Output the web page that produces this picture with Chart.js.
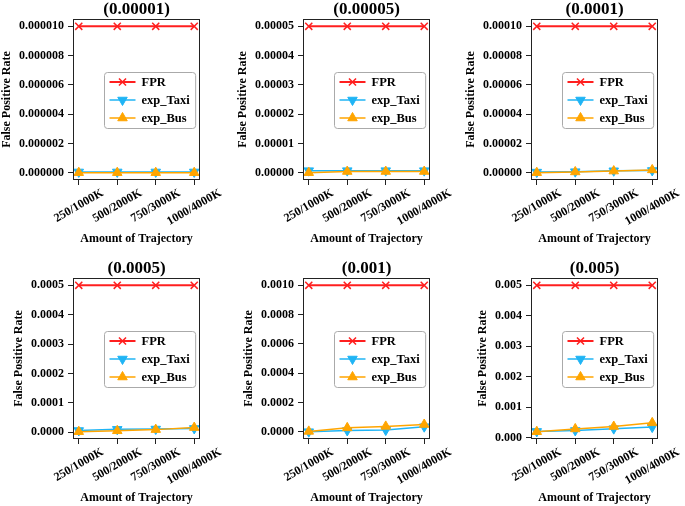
<!DOCTYPE html>
<html>
<head>
<meta charset="utf-8">
<script src="https://cdn.jsdelivr.net/npm/chart.js@4.4.1/dist/chart.umd.min.js"></script>
<style>
  html, body { margin: 0; padding: 0; background: #fff; overflow: hidden; }
  #wrap { position: relative; width: 685px; height: 506px; overflow: hidden; }
  .panel { position: absolute; width: 227px; height: 250px; }
</style>
</head>
<body>
<div id="wrap"></div>
<script>
const categories = ["250/1000K", "500/2000K", "750/3000K", "1000/4000K"];
const panelTitles = ["(0.00001)", "(0.00005)", "(0.0001)", "(0.0005)", "(0.001)", "(0.005)"];
const yTickMax = [0.00001, 0.00005, 0.0001, 0.0005, 0.001, 0.005];
const yTickDecimals = [6, 5, 5, 4, 4, 3];

const fpr = [
  [0.00001, 0.00001, 0.00001, 0.00001],
  [0.00005, 0.00005, 0.00005, 0.00005],
  [0.0001, 0.0001, 0.0001, 0.0001],
  [0.0005, 0.0005, 0.0005, 0.0005],
  [0.001, 0.001, 0.001, 0.001],
  [0.005, 0.005, 0.005, 0.005]
];
const expTaxi = [
  [0.00000005, 0.00000005, 0.00000005, 0.00000005],
  [0.0000008, 0.0000008, 0.0000008, 0.0000008],
  [0.0000005, 0.0000008, 0.0000014, 0.0000016],
  [0.000006, 0.000010, 0.000011, 0.000013],
  [0.000002, 0.000010, 0.000013, 0.000036],
  [0.00020, 0.00023, 0.00029, 0.00034]
];
const expBus = [
  [0, 0, 0, 0],
  [0.0000001, 0.0000005, 0.0000005, 0.0000005],
  [0.0000001, 0.0000006, 0.0000012, 0.000002],
  [0.000002, 0.000005, 0.000009, 0.000016],
  [0.000004, 0.000028, 0.000038, 0.000051],
  [0.00019, 0.00028, 0.00036, 0.00048]
];

const FONT = "'Liberation Serif', 'Times New Roman', serif";
const panelLeft = [0, 230, 458];
const panelTop = [0, 259];

const measureCtx = document.createElement("canvas").getContext("2d");
measureCtx.font = "bold 12px " + FONT;

// full plot frame (matplotlib spines)
const framePlugin = {
  id: "frame",
  afterDraw(chart) {
    const { ctx, chartArea: a } = chart;
    ctx.save();
    ctx.strokeStyle = "#222";
    ctx.lineWidth = 1;
    ctx.strokeRect(Math.round(a.left) + 0.5, Math.round(a.top) + 0.5,
      Math.round(a.right - a.left) - 1, Math.round(a.bottom - a.top) - 1);
    ctx.restore();
  }
};

// rotated x labels centred on the ticks
const xLabelPlugin = {
  id: "xLabels",
  afterDraw(chart) {
    const { ctx, chartArea, scales } = chart;
    const ang = Math.PI / 6;
    ctx.save();
    ctx.font = "bold 12px " + FONT;
    ctx.fillStyle = "#000";
    ctx.textAlign = "center";
    ctx.textBaseline = "middle";
    categories.forEach((label, i) => {
      const w = ctx.measureText(label).width;
      const h = w * Math.sin(ang) + 12 * Math.cos(ang);
      const x = scales.x.getPixelForValue(i);
      const y = chartArea.bottom + 7 + h / 2;
      ctx.save();
      ctx.translate(x, y);
      ctx.rotate(-ang);
      ctx.fillText(label, 0, 0);
      ctx.restore();
    });
    ctx.restore();
  }
};

// legend box at centre right of the plot
const legendPlugin = {
  id: "boxLegend",
  afterDraw(chart) {
    const { ctx, chartArea: a } = chart;
    const sets = chart.data.datasets;
    ctx.save();
    ctx.font = "bold 12.5px " + FONT;
    const textW = Math.max(...sets.map(d => ctx.measureText(d.label).width));
    const w = 5 + 26 + 6 + textW + 6;
    const h = 56;
    const x0 = Math.round(a.right - 5 - w) + 0.5;
    const y0 = Math.round((a.top + a.bottom) / 2 - h / 2) + 0.5;
    ctx.fillStyle = "rgba(255,255,255,0.9)";
    ctx.strokeStyle = "#aaa";
    ctx.lineWidth = 1;
    ctx.beginPath();
    if (ctx.roundRect) ctx.roundRect(x0, y0, w, h, 3); else ctx.rect(x0, y0, w, h);
    ctx.fill();
    ctx.stroke();
    sets.forEach((d, i) => {
      const y = y0 + 9.5 + i * 18;
      ctx.strokeStyle = d.borderColor;
      ctx.fillStyle = d.pointBackgroundColor;
      ctx.lineWidth = d.borderWidth;
      ctx.beginPath();
      ctx.moveTo(x0 + 5, y);
      ctx.lineTo(x0 + 31, y);
      ctx.stroke();
      ctx.lineWidth = d.pointBorderWidth;
      Chart.helpers.drawPoint(ctx, {
        pointStyle: d.pointStyle, rotation: d.pointRotation || 0,
        radius: d.pointRadius, borderWidth: d.pointBorderWidth
      }, x0 + 18, y);
      ctx.fillStyle = "#000";
      ctx.textAlign = "left";
      ctx.textBaseline = "middle";
      ctx.fillText(d.label, x0 + 37, y + 1);
    });
    ctx.restore();
  }
};

function points(vals) {
  return vals.map((v, i) => ({ x: i, y: v }));
}

const wrap = document.getElementById("wrap");

panelTitles.forEach((title, p) => {
  const div = document.createElement("div");
  div.className = "panel";
  div.style.left = panelLeft[p % 3] + "px";
  div.style.top = panelTop[Math.floor(p / 3)] + "px";
  const canvas = document.createElement("canvas");
  canvas.width = 227;
  canvas.height = 250;
  div.appendChild(canvas);
  wrap.appendChild(div);

  const all = fpr[p].concat(expTaxi[p], expBus[p]);
  const lo = Math.min(...all), hi = Math.max(...all);
  const span = hi - lo;
  const step = yTickMax[p] / 5;
  const dec = yTickDecimals[p];
  const labelW = measureCtx.measureText(yTickMax[p].toFixed(dec)).width;
  const yTitlePad = Math.max(0, 45 - labelW);

  new Chart(canvas, {
    type: "line",
    data: {
      datasets: [
        {
          label: "FPR", data: points(fpr[p]), order: 2,
          borderColor: "#ff1f1f", backgroundColor: "#ff1f1f",
          pointBackgroundColor: "#ff1f1f", borderWidth: 2,
          pointStyle: "crossRot", pointRadius: 5, pointBorderWidth: 1.5
        },
        {
          label: "exp_Taxi", data: points(expTaxi[p]), order: 1,
          borderColor: "#1fb4f5", backgroundColor: "#1fb4f5",
          pointBackgroundColor: "#1fb4f5", borderWidth: 1.5,
          pointStyle: "triangle", pointRotation: 180, pointRadius: 5.5, pointBorderWidth: 1
        },
        {
          label: "exp_Bus", data: points(expBus[p]), order: 0,
          borderColor: "#ffa500", backgroundColor: "#ffa500",
          pointBackgroundColor: "#ffa500", borderWidth: 1.5,
          pointStyle: "triangle", pointRadius: 5.5, pointBorderWidth: 1
        }
      ]
    },
    options: {
      responsive: false,
      animation: false,
      events: [],
      layout: { padding: { left: 0, right: 27, top: 0, bottom: 0 } },
      plugins: {
        legend: { display: false },
        tooltip: { enabled: false },
        title: {
          display: true, text: title, color: "#000", fullSize: false,
          font: { family: FONT, size: 17, weight: "bold", lineHeight: "19px" },
          padding: { top: 0, bottom: 0 }
        }
      },
      scales: {
        x: {
          type: "linear", min: -0.15, max: 3.15,
          afterBuildTicks: s => { s.ticks = categories.map((c, i) => ({ value: i })); },
          afterFit: s => { s.height = 70; },
          ticks: { display: false },
          grid: { drawOnChartArea: false, drawTicks: true, tickLength: 5, color: "#222" },
          border: { display: false },
          title: {
            display: true, text: "Amount of Trajectory", color: "#000",
            font: { family: FONT, size: 12, weight: "bold", lineHeight: "14px" },
            padding: { top: 0, bottom: 4 }
          }
        },
        y: {
          min: lo - 0.05 * span, max: hi + 0.05 * span,
          afterBuildTicks: s => { s.ticks = [0, 1, 2, 3, 4, 5].map(i => ({ value: i * step })); },
          afterFit: s => { s.width = 73; },
          ticks: {
            color: "#000", padding: 4,
            font: { family: FONT, size: 12, weight: "bold" },
            callback: v => v.toFixed(dec)
          },
          grid: { drawOnChartArea: false, drawTicks: true, tickLength: 5, color: "#222" },
          border: { display: false },
          title: {
            display: true, text: "False Positive Rate", color: "#000",
            font: { family: FONT, size: 12, weight: "bold", lineHeight: "14px" },
            padding: { top: yTitlePad, bottom: 0 }
          }
        }
      }
    },
    plugins: [framePlugin, xLabelPlugin, legendPlugin]
  });
});
</script>
</body>
</html>
